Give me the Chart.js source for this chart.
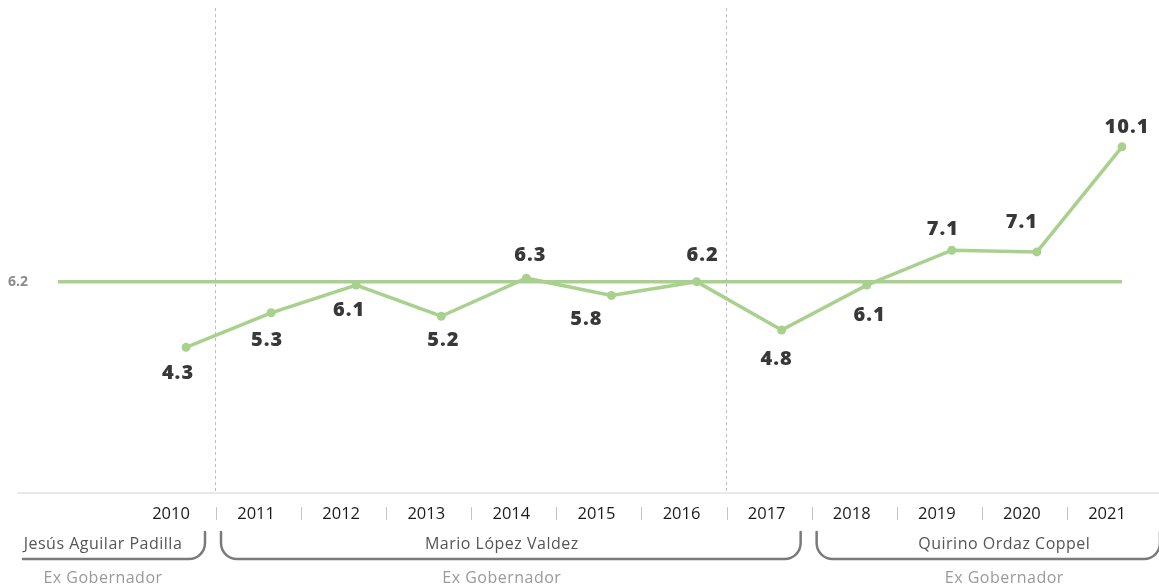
<!DOCTYPE html>
<html lang="es">
<head>
<meta charset="utf-8">
<title>Sinaloa 2010-2021</title>
<script src="https://cdn.jsdelivr.net/npm/chart.js@4.4.1/dist/chart.umd.min.js"></script>
<style>
  html, body { margin: 0; padding: 0; background: #fff; }
  #contenedor { width: 1159px; height: 588px; position: relative; }
</style>
</head>
<body>
<div id="contenedor"><canvas id="grafico"></canvas></div>
<script>
// datos
const anios = ['2010', '2011', '2012', '2013', '2014', '2015', '2016', '2017', '2018', '2019', '2020', '2021'];
const valores = [4.3, 5.3, 6.1, 5.2, 6.3, 5.8, 6.2, 4.8, 6.1, 7.11, 7.06, 10.1];
const promedio = 6.2;

const gobernadores = ['Jesús Aguilar Padilla', 'Mario López Valdez', 'Quirino Ordaz Coppel'];
const inicioMandato = [0, 1, 8];
const finMandato = [0, 7, 11];
const cargo = 'Ex Gobernador';
// linea punteada despues de estos años
const cortes = ['2010', '2016'];

// ajuste de cada etiqueta de valor respecto a su punto [dx, dy]
const ajusteEtiqueta = [[-8, 26], [-4, 28], [-7, 25], [2, 24], [4, -23], [-25, 24],
                        [6, -26], [-5, 29], [3, 30], [-9, -21], [-15, -30], [5, -20]];
// corrimiento horizontal del nombre respecto al centro de su llave
const ajusteNombre = [-11, -9, 16];

const verde = '#a9d18e';
const fuente = '"Open Sans", "Noto Sans", sans-serif';

const decoracion = {
    id: 'decoracion',
    beforeDatasetsDraw(chart) {
        const ctx = chart.ctx;
        const x = chart.scales.x;
        const area = chart.chartArea;
        ctx.save();
        ctx.strokeStyle = '#bdbdbd';
        ctx.lineWidth = 1;
        ctx.setLineDash([3, 3]);
        cortes.forEach(a => {
            const px = Math.round(x.getPixelForValue(anios.indexOf(a)) + 29) + 0.5;
            ctx.beginPath();
            ctx.moveTo(px, 8);
            ctx.lineTo(px, area.bottom - 4);
            ctx.stroke();
        });
        ctx.restore();
    },
    afterDraw(chart) {
        const ctx = chart.ctx;
        const x = chart.scales.x;
        const area = chart.chartArea;
        const sep = i => x.getPixelForValue(i) + 30;
        ctx.save();

        // linea base
        ctx.strokeStyle = '#e2e2e2';
        ctx.lineWidth = 1.5;
        ctx.beginPath();
        ctx.moveTo(17, area.bottom - 3);
        ctx.lineTo(chart.width, area.bottom - 3);
        ctx.stroke();

        // separadores entre años
        ctx.strokeStyle = '#c4c4c4';
        ctx.lineWidth = 1;
        for (let i = 0; i < anios.length - 1; i++) {
            const px = Math.round(sep(i)) + 0.5;
            ctx.beginPath();
            ctx.moveTo(px, 507);
            ctx.lineTo(px, 520);
            ctx.stroke();
        }

        // llaves de cada gobernador
        const yLinea = 559, yPunta = 532, r = 16;
        ctx.strokeStyle = '#7a7a7a';
        ctx.lineWidth = 2.5;
        ctx.lineCap = 'round';
        gobernadores.forEach((nombre, g) => {
            const izq = g === 0 ? 23 : sep(inicioMandato[g] - 1) + 5;
            const der = g === gobernadores.length - 1 ? chart.width + 1 : sep(finMandato[g]) - 11;
            ctx.beginPath();
            if (g === 0) {
                ctx.moveTo(izq, yLinea);
            } else {
                ctx.moveTo(izq, yPunta);
                ctx.arcTo(izq, yLinea, izq + r, yLinea, r);
            }
            ctx.arcTo(der, yLinea, der, yLinea - r, r);
            ctx.lineTo(der, yPunta);
            ctx.stroke();

            const centro = (izq + der) / 2 + ajusteNombre[g];
            ctx.textAlign = 'center';
            ctx.textBaseline = 'middle';
            ctx.letterSpacing = '0.5px';
            ctx.font = '16px ' + fuente;
            ctx.fillStyle = '#555555';
            ctx.fillText(nombre, centro, 544);
            ctx.fillStyle = '#9a9a9a';
            ctx.fillText(cargo, centro, 578);
        });

        // etiquetas de valor
        const meta = chart.getDatasetMeta(0);
        ctx.font = '800 20px ' + fuente;
        ctx.letterSpacing = '1px';
        ctx.fillStyle = '#383838';
        ctx.textAlign = 'center';
        ctx.textBaseline = 'middle';
        meta.data.forEach((p, i) => {
            const [dx, dy] = ajusteEtiqueta[i];
            ctx.fillText(valores[i].toFixed(1), p.x + dx, p.y + dy);
        });
        ctx.restore();
    }
};

new Chart(document.getElementById('grafico'), {
    type: 'line',
    data: {
        labels: anios,
        datasets: [{
            data: valores,
            borderColor: verde,
            backgroundColor: verde,
            borderWidth: 3.5,
            pointRadius: 4.5,
            pointBackgroundColor: verde,
            pointBorderWidth: 0,
            tension: 0
        }]
    },
    options: {
        responsive: true,
        maintainAspectRatio: false,
        animation: false,
        layout: { padding: { left: 8, right: 37, top: 12, bottom: 0 } },
        plugins: {
            legend: { display: false },
            tooltip: { enabled: false }
        },
        scales: {
            x: {
                type: 'category',
                offset: false,
                grid: { display: false, drawTicks: false },
                border: { display: false },
                ticks: {
                    color: '#1a1a1a',
                    font: { family: fuente, size: 16.5, weight: '500' },
                    labelOffset: -15,
                    padding: 8,
                    autoSkip: false,
                    maxRotation: 0
                },
                afterFit(scale) { scale.height = 92; }
            },
            y: {
                min: 0,
                max: 14,
                border: { display: false },
                afterBuildTicks(scale) { scale.ticks = [{ value: promedio }]; },
                grid: {
                    color: verde,
                    lineWidth: 3.5,
                    tickLength: 128,
                    drawOnChartArea: true
                },
                ticks: {
                    color: '#8a8a8a',
                    font: { family: fuente, size: 14, weight: 'bold' },
                    crossAlign: 'far',
                    callback: v => v.toFixed(1)
                },
                afterFit(scale) { scale.width = 178; }
            }
        }
    },
    plugins: [decoracion]
});
</script>
</body>
</html>
